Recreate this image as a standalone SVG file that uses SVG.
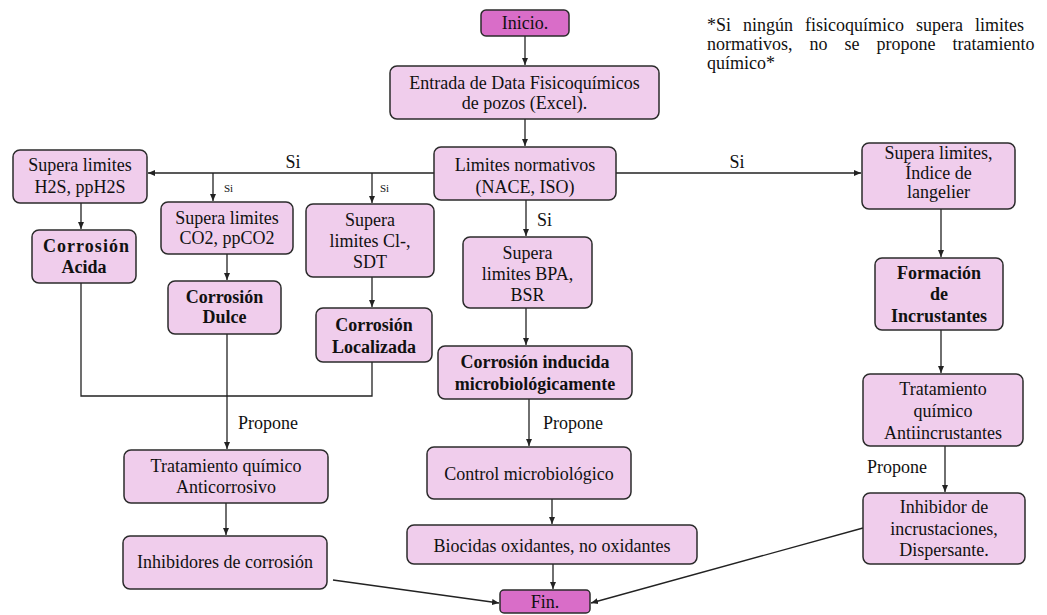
<svg xmlns="http://www.w3.org/2000/svg" width="1047" height="615" viewBox="0 0 1047 615">
<style>
.n{fill:#f0cdec;stroke:#2b2b2b;stroke-width:1.5}
.t{fill:#d96dc8;stroke:#2b2b2b;stroke-width:1.5}
text{font-size:18px;fill:#111;text-anchor:middle}
.b{font-weight:bold}
.l{text-anchor:start}
.s{font-size:11px;text-anchor:start}
.c{fill:none;stroke:#222;stroke-width:1.3}
</style>
<defs>
<marker id="a" markerWidth="8" markerHeight="8" refX="7" refY="4" orient="auto" markerUnits="userSpaceOnUse">
<path d="M0,1 L7,4 L0,7 Z" fill="#222"/>
</marker>
</defs>
<rect width="1047" height="615" fill="#fff"/>
<g font-family="'Liberation Serif', 'DejaVu Serif', serif">
<g id="connectors">
<path class="c" d="M525,36 V65" marker-end="url(#a)"/>
<path class="c" d="M525,119 V146" marker-end="url(#a)"/>
<path class="c" d="M434,173 H148" marker-end="url(#a)"/>
<path class="c" d="M213,173 V201" marker-end="url(#a)"/>
<path class="c" d="M372,173 V203" marker-end="url(#a)"/>
<path class="c" d="M616,173 H861" marker-end="url(#a)"/>
<path class="c" d="M526,200 V236" marker-end="url(#a)"/>
<path class="c" d="M526,308 V345" marker-end="url(#a)"/>
<path class="c" d="M529,399 V446" marker-end="url(#a)"/>
<path class="c" d="M552,499 V524" marker-end="url(#a)"/>
<path class="c" d="M553,564 V589" marker-end="url(#a)"/>
<path class="c" d="M81,203 V229" marker-end="url(#a)"/>
<path class="c" d="M81,283 V396 H372 V362"/>
<path class="c" d="M227,254 V280" marker-end="url(#a)"/>
<path class="c" d="M227,334 V449" marker-end="url(#a)"/>
<path class="c" d="M372,277 V307" marker-end="url(#a)"/>
<path class="c" d="M226,503 V535" marker-end="url(#a)"/>
<path class="c" d="M333,580 L499,603" marker-end="url(#a)"/>
<path class="c" d="M941,209 V257" marker-end="url(#a)"/>
<path class="c" d="M941,330 V373" marker-end="url(#a)"/>
<path class="c" d="M945,446 V492" marker-end="url(#a)"/>
<path class="c" d="M863,528 L591,603" marker-end="url(#a)"/>
<text x="293" y="168">Si</text>
<text x="737" y="168">Si</text>
<text class="l" x="537" y="226">Si</text>
<text class="s" x="224" y="192">Si</text>
<text class="s" x="380" y="192">Si</text>
<text class="l" x="238" y="429">Propone</text>
<text class="l" x="543" y="429">Propone</text>
<text class="l" x="867" y="473">Propone</text>
</g>
<g id="inicio"><rect class="t" x="481" y="10" width="88" height="26" rx="5"/><text x="525" y="29">Inicio.</text></g>
<g id="entrada"><rect class="n" x="390" y="66" width="269" height="53" rx="7"/><text x="524.5" y="89">Entrada de Data Fisicoquímicos</text><text x="524.5" y="109">de pozos (Excel).</text></g>
<g id="limites"><rect class="n" x="434" y="147" width="182" height="53" rx="7"/><text x="525" y="171">Limites normativos</text><text x="525" y="193">(NACE, ISO)</text></g>
<g id="h2s"><rect class="n" x="13" y="150" width="134" height="53" rx="7"/><text x="80" y="171">Supera limites</text><text x="80" y="193">H2S, ppH2S</text></g>
<g id="acida"><rect class="n" x="32" y="230" width="104" height="53" rx="7"/><text class="b" x="86" y="252" textLength="86">Corrosión</text><text class="b" x="84" y="273">Acida</text></g>
<g id="co2"><rect class="n" x="161" y="202" width="132" height="52" rx="7"/><text x="227" y="224">Supera limites</text><text x="227" y="244">CO2, ppCO2</text></g>
<g id="dulce"><rect class="n" x="168" y="281" width="113" height="53" rx="7"/><text class="b" x="224.5" y="303">Corrosión</text><text class="b" x="224.5" y="323">Dulce</text></g>
<g id="cl"><rect class="n" x="306" y="204" width="128" height="73" rx="7"/><text x="370" y="226">Supera</text><text x="370" y="247">limites Cl-,</text><text x="370" y="268">SDT</text></g>
<g id="localizada"><rect class="n" x="316" y="308" width="116" height="54" rx="7"/><text class="b" x="374" y="331">Corrosión</text><text class="b" x="374" y="353">Localizada</text></g>
<g id="bpa"><rect class="n" x="463" y="237" width="129" height="71" rx="7"/><text x="527.5" y="259">Supera</text><text x="527.5" y="280">limites BPA,</text><text x="527.5" y="301">BSR</text></g>
<g id="inducida"><rect class="n" x="438" y="346" width="194" height="53" rx="7"/><text class="b" x="535" y="368">Corrosión inducida</text><text class="b" x="535" y="390">microbiológicamente</text></g>
<g id="langelier"><rect class="n" x="862" y="143" width="153" height="66" rx="7"/><text x="938.5" y="159">Supera limites,</text><text x="938.5" y="179">Índice de</text><text x="938.5" y="198">langelier</text></g>
<g id="formacion"><rect class="n" x="875" y="258" width="128" height="72" rx="7"/><text class="b" x="939" y="279">Formación</text><text class="b" x="939" y="300">de</text><text class="b" x="939" y="322">Incrustantes</text></g>
<g id="anticorrosivo"><rect class="n" x="124" y="450" width="204" height="53" rx="7"/><text x="226" y="472">Tratamiento químico</text><text x="226" y="493">Anticorrosivo</text></g>
<g id="inhibidores"><rect class="n" x="123" y="536" width="204" height="53" rx="7"/><text x="225" y="568">Inhibidores de corrosión</text></g>
<g id="control"><rect class="n" x="427" y="447" width="204" height="52" rx="7"/><text x="529" y="480">Control microbiológico</text></g>
<g id="biocidas"><rect class="n" x="407" y="525" width="290" height="39" rx="7"/><text x="552" y="552">Biocidas oxidantes, no oxidantes</text></g>
<g id="fin"><rect class="t" x="500" y="590" width="90" height="23" rx="4"/><text x="545" y="608">Fin.</text></g>
<g id="antiincrustantes"><rect class="n" x="863" y="374" width="160" height="72" rx="7"/><text x="943" y="395">Tratamiento</text><text x="943" y="417">químico</text><text x="943" y="439">Antiincrustantes</text></g>
<g id="inhibidor"><rect class="n" x="863" y="493" width="162" height="71" rx="7"/><text x="944" y="513">Inhibidor de</text><text x="944" y="535">incrustaciones,</text><text x="944" y="556">Dispersante.</text></g>
<g id="nota">
<text class="l" x="707" y="31" word-spacing="7.5">*Si ningún fisicoquímico supera limites</text>
<text class="l" x="707" y="50" word-spacing="12.5">normativos, no se propone tratamiento</text>
<text class="l" x="707" y="69">químico*</text>
</g>
</g>
</svg>
